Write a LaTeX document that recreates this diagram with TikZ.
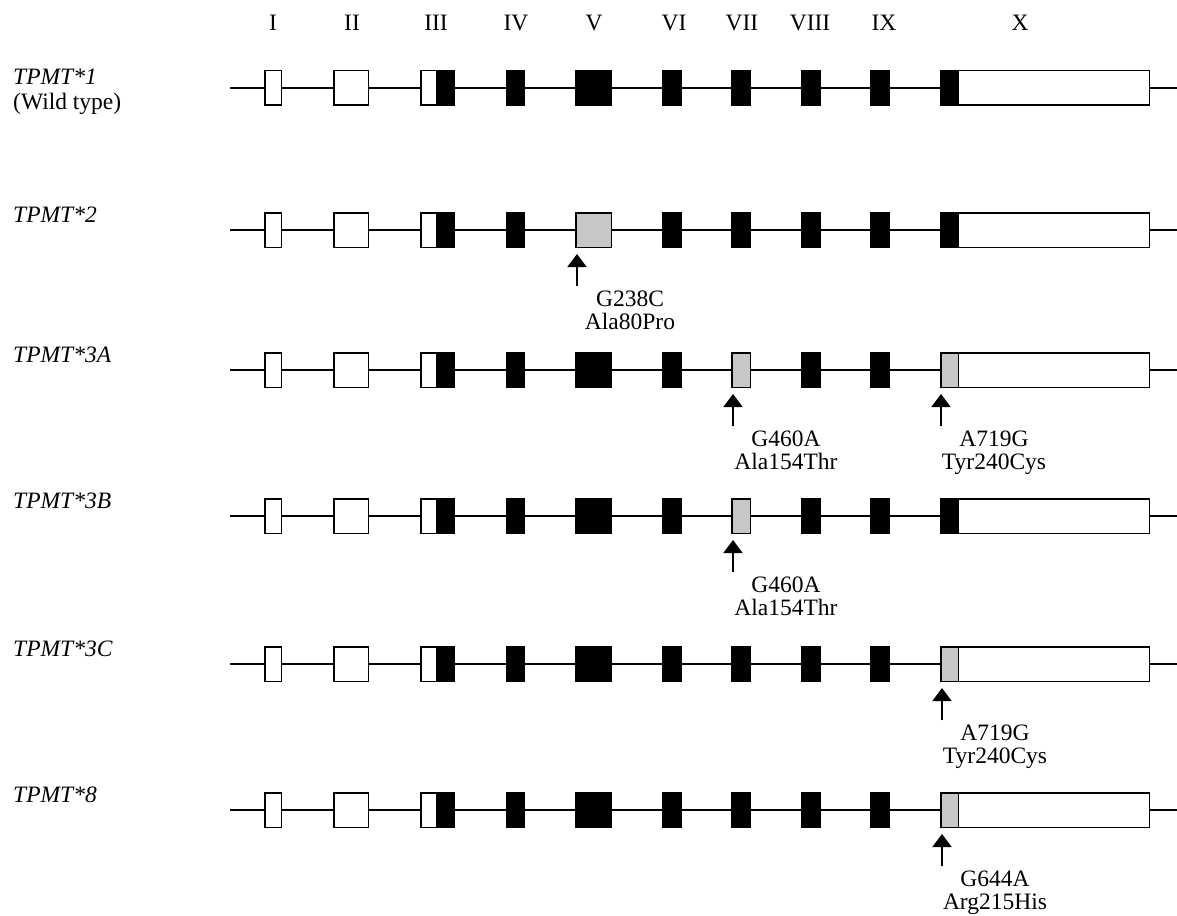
\documentclass[tikz,border=0pt]{standalone}
\usepackage{fontspec}
\setmainfont{Liberation Serif}
\usetikzlibrary{arrows.meta}
% one gene row: #1 name, #2 y, #3 style of exon V, #4 style of exon VII, #5 style of first part of exon X
\newcommand{\generow}[5]{%
  \coordinate (#1s) at (230,#2);
  \coordinate (#1t) at (1177,#2);
  \node[openexon, minimum width=16.5pt] (#1e1) at (273,#2) {};
  \node[openexon, minimum width=34.5pt] (#1e2) at (351,#2) {};
  \node[openexon, minimum width=16pt] (#1e3a) at (428.75,#2) {};
  \node[blkexon, minimum width=17.5pt] (#1e3b) at (445.5,#2) {};
  \node[blkexon, minimum width=17.5pt] (#1e4) at (515.5,#2) {};
  \node[#3, minimum width=35.5pt] (#1e5) at (593.5,#2) {};
  \node[blkexon, minimum width=18.5pt] (#1e6) at (672,#2) {};
  \node[#4, minimum width=18.5pt] (#1e7) at (741,#2) {};
  \node[blkexon, minimum width=18.5pt] (#1e8) at (811,#2) {};
  \node[blkexon, minimum width=18.5pt] (#1e9) at (880,#2) {};
  \node[#5, minimum width=17.5pt] (#1e10a) at (949.5,#2) {};
  \node[openexon, minimum width=191pt] (#1e10b) at (1053.75,#2) {};
  \draw[intron] (#1s) -- (#1e1) -- (#1e2) -- (#1e3a);
  \draw[intron] (#1e3b) -- (#1e4) -- (#1e5) -- (#1e6) -- (#1e7) -- (#1e8) -- (#1e9) -- (#1e10a);
  \draw[intron] (#1e10b) -- (#1t);
}
% mutation arrow with its two text lines: #1 name, #2 x, #3 row y, #4 #5 texts
\newcommand{\mutarrow}[5]{%
  \coordinate (#1tail) at (#2,#3+56);
  \coordinate (#1tip) at (#2,#3+24);
  \draw[snparrow] (#1tail) -- (#1tip);
  \node[lbl, anchor=base] (#1a) at (#2+53,#3+76) {#4};
  \node[lbl, anchor=base] (#1b) at (#2+53,#3+99) {#5};
}
\begin{document}
\begin{tikzpicture}[x=1pt,y=-1pt,
  exon/.style={draw=black, line width=1.5pt, rectangle, inner sep=0pt, minimum height=34.5pt},
  openexon/.style={exon, fill=white},
  blkexon/.style={exon, fill=black},
  mutexon/.style={exon, fill=black!22},
  intron/.style={line width=1.6pt},
  lbl/.style={font=\fontsize{23.5}{25}\selectfont, inner sep=0pt},
  snparrow/.style={-{Triangle[width=19pt,length=13pt]}, line width=1.8pt},
]
\useasboundingbox (0,0) rectangle (1177,915);
\fill[white] (0,0) rectangle (1177,915);

% exon numbers
\node[lbl, anchor=base] (n1) at (273,31) {I};
\node[lbl, anchor=base] (n2) at (352,31) {II};
\node[lbl, anchor=base] (n3) at (436,31) {III};
\node[lbl, anchor=base] (n4) at (516,31) {IV};
\node[lbl, anchor=base] (n5) at (594,31) {V};
\node[lbl, anchor=base] (n6) at (674,31) {VI};
\node[lbl, anchor=base] (n7) at (742,31) {VII};
\node[lbl, anchor=base] (n8) at (810,31) {VIII};
\node[lbl, anchor=base] (n9) at (884,31) {IX};
\node[lbl, anchor=base] (n10) at (1020,31) {X};

% allele labels
\node[lbl, anchor=base west] (l1) at (13,85) {\textit{TPMT*1}};
\node[lbl, anchor=base west] (l1b) at (13,110) {(Wild type)};
\node[lbl, anchor=base west] (l2) at (13,222) {\textit{TPMT*2}};
\node[lbl, anchor=base west] (l3) at (13,362) {\textit{TPMT*3A}};
\node[lbl, anchor=base west] (l4) at (13,508) {\textit{TPMT*3B}};
\node[lbl, anchor=base west] (l5) at (13,656) {\textit{TPMT*3C}};
\node[lbl, anchor=base west] (l6) at (13,802) {\textit{TPMT*8}};

% gene rows
\generow{r1}{88}{blkexon}{blkexon}{blkexon}
\generow{r2}{230}{mutexon}{blkexon}{blkexon}
\generow{r3}{370}{blkexon}{mutexon}{mutexon}
\generow{r4}{516}{blkexon}{mutexon}{blkexon}
\generow{r5}{664}{blkexon}{blkexon}{mutexon}
\generow{r6}{810}{blkexon}{blkexon}{mutexon}

% mutations
\mutarrow{m2}{577}{230}{G238C}{Ala80Pro}
\mutarrow{m3a}{733}{370}{G460A}{Ala154Thr}
\mutarrow{m3b}{941}{370}{A719G}{Tyr240Cys}
\mutarrow{m4}{733}{516}{G460A}{Ala154Thr}
\mutarrow{m5}{942}{664}{A719G}{Tyr240Cys}
\mutarrow{m6}{942}{810}{G644A}{Arg215His}
\end{tikzpicture}
\end{document}
